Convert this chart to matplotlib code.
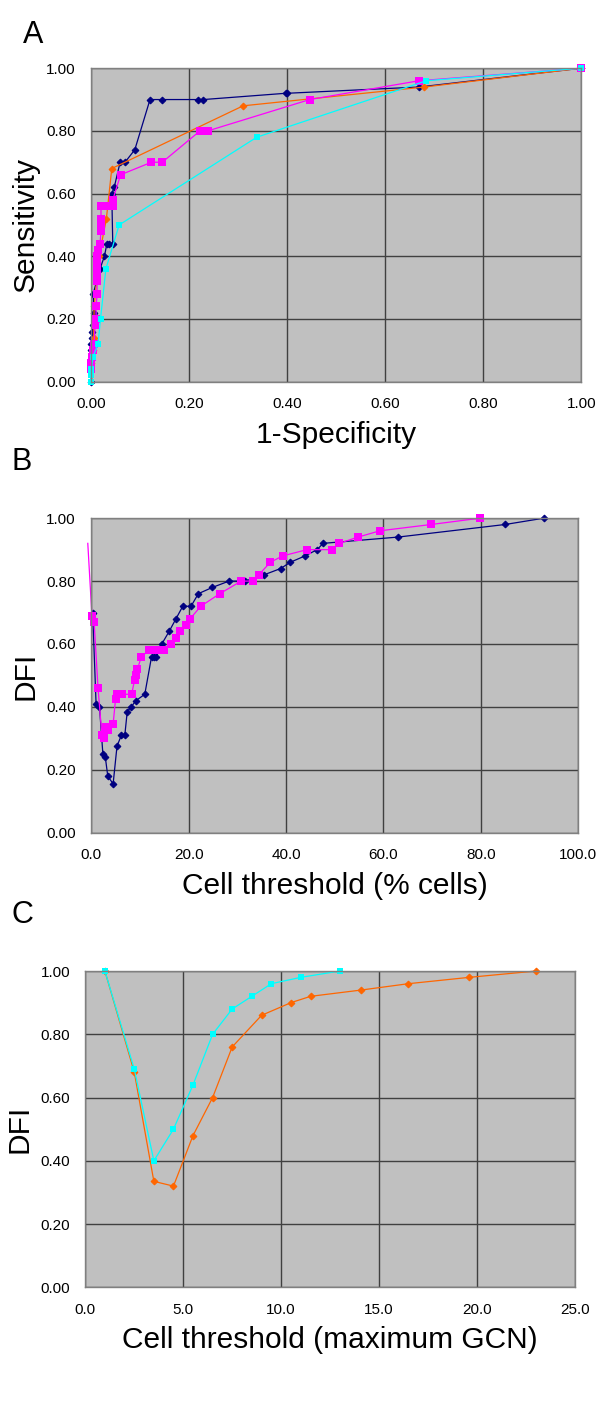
import matplotlib
matplotlib.use("Agg")
import matplotlib.pyplot as plt
from matplotlib.ticker import MultipleLocator, FormatStrFormatter

plt.rcParams["font.family"] = ["Liberation Sans", "DejaVu Sans"]

# Panel A: ROC curves
roc_navy_x = [0.0, 0.0, 0.0, 0.002, 0.002, 0.004, 0.006, 0.004, 0.018, 0.027, 0.032, 0.036, 0.044,
              0.042, 0.047, 0.059, 0.069, 0.089, 0.12, 0.145, 0.218, 0.229, 0.397, 0.40, 0.669, 1.0]
roc_navy_y = [0.0, 0.10, 0.12, 0.14, 0.16, 0.18, 0.22, 0.28, 0.36, 0.40, 0.44, 0.44, 0.44,
              0.60, 0.62, 0.70, 0.70, 0.74, 0.90, 0.90, 0.90, 0.90, 0.92, 0.92, 0.94, 1.0]
roc_orange_x = [0.0, 0.004, 0.005, 0.006, 0.016, 0.031, 0.042, 0.31, 0.68, 1.0]
roc_orange_y = [0.06, 0.10, 0.14, 0.24, 0.40, 0.52, 0.68, 0.88, 0.94, 1.0]
roc_magenta_x = [0.0, 0.0, 0.002, 0.004, 0.006, 0.008, 0.01, 0.01, 0.012, 0.012, 0.012, 0.012, 0.012,
                 0.012, 0.014, 0.018, 0.02, 0.02, 0.02, 0.02, 0.026, 0.032, 0.038, 0.044, 0.044, 0.06,
                 0.123, 0.145, 0.222, 0.238, 0.446, 0.669, 1.0]
roc_magenta_y = [0.04, 0.06, 0.08, 0.10, 0.12, 0.18, 0.20, 0.24, 0.28, 0.32, 0.34, 0.36, 0.38,
                 0.40, 0.42, 0.44, 0.48, 0.50, 0.52, 0.56, 0.56, 0.56, 0.56, 0.56, 0.58, 0.66,
                 0.70, 0.70, 0.80, 0.80, 0.90, 0.96, 1.0]
roc_cyan_x = [0.0, 0.0, 0.0, 0.004, 0.014, 0.019, 0.03, 0.057, 0.338, 0.684, 1.0]
roc_cyan_y = [0.0, 0.02, 0.04, 0.08, 0.12, 0.20, 0.36, 0.50, 0.78, 0.96, 1.0]

# Panel B: DFI vs % cells threshold
pct_navy_x = [0.3, 1.0, 1.7, 2.4, 2.9, 3.4, 4.5, 5.3, 6.2, 6.9, 7.4, 8.2, 9.2, 11.0, 12.4, 12.9, 13.4,
              14.5, 16.0, 17.4, 18.8, 20.5, 22.0, 24.9, 28.3, 31.6, 35.5, 38.9, 40.9, 43.9, 46.4,
              47.6, 63.0, 85.0, 92.9]
pct_navy_y = [0.70, 0.41, 0.40, 0.25, 0.24, 0.18, 0.155, 0.275, 0.31, 0.31, 0.385, 0.40, 0.42, 0.44,
              0.56, 0.56, 0.56, 0.60, 0.64, 0.68, 0.72, 0.72, 0.76, 0.78, 0.80, 0.80, 0.82, 0.84,
              0.86, 0.88, 0.90, 0.92, 0.94, 0.98, 1.00]
pct_magenta_x = [-0.7, 0.15, 0.6, 1.4, 2.2, 2.7, 3.0, 3.4, 4.5, 5.0, 5.3, 6.4, 8.3, 8.9, 9.1, 9.5,
                 10.3, 11.9, 13.3, 14.9, 16.3, 17.4, 18.3, 19.4, 20.3, 22.5, 26.4, 30.8, 33.3, 34.4,
                 36.8, 39.3, 44.3, 49.4, 50.9, 54.8, 59.3, 69.8, 79.8]
pct_magenta_y = [0.92, 0.69, 0.67, 0.46, 0.31, 0.30, 0.335, 0.325, 0.345, 0.425, 0.44, 0.44, 0.44,
                 0.485, 0.50, 0.52, 0.56, 0.58, 0.58, 0.58, 0.60, 0.62, 0.64, 0.66, 0.68, 0.72,
                 0.76, 0.80, 0.80, 0.82, 0.86, 0.88, 0.90, 0.90, 0.92, 0.94, 0.96, 0.98, 1.00]

# Panel C: DFI vs maximum GCN threshold
gcn_orange_x = [1.0, 2.5, 3.5, 4.5, 5.5, 6.5, 7.5, 9.0, 10.5, 11.5, 14.1, 16.5, 19.6, 23.0]
gcn_orange_y = [1.00, 0.68, 0.335, 0.32, 0.48, 0.60, 0.76, 0.86, 0.90, 0.92, 0.94, 0.96, 0.98, 1.00]
gcn_cyan_x = [1.0, 2.5, 3.5, 4.5, 5.5, 6.5, 7.5, 8.5, 9.5, 11.0, 13.0]
gcn_cyan_y = [1.00, 0.69, 0.40, 0.50, 0.64, 0.80, 0.88, 0.92, 0.96, 0.98, 1.00]

NAVY = "#000080"
ORANGE = "#FF6600"
MAGENTA = "#FF00FF"
CYAN = "#00FFFF"

LABEL_FS = 21.5
TICK_FS = 11

DIAMOND = dict(marker="D", ms=3.4, mew=0.8, clip_on=False)
SQUARE_BIG = dict(marker="s", ms=5.5, mew=0, clip_on=False)
SQUARE = dict(marker="s", ms=4.8, mew=0, clip_on=False)


def style_axes(ax, xmax, xstep, xfmt, xlabel, ylabel):
    ax.set_facecolor("#C0C0C0")
    ax.set_xlim(0, xmax)
    ax.set_ylim(0, 1.0)
    ax.xaxis.set_major_locator(MultipleLocator(xstep))
    ax.yaxis.set_major_locator(MultipleLocator(0.2))
    ax.xaxis.set_major_formatter(FormatStrFormatter(xfmt))
    ax.yaxis.set_major_formatter(FormatStrFormatter("%.2f"))
    ax.grid(True, color="#404040", linewidth=1.0)
    ax.set_axisbelow(True)
    ax.tick_params(length=0, labelsize=TICK_FS, pad=11)
    for sp in ax.spines.values():
        sp.set_color("#808080")
        sp.set_linewidth(1.0)
    ax.set_xlabel(xlabel, fontsize=LABEL_FS, labelpad=7)
    ax.set_ylabel(ylabel, fontsize=LABEL_FS, labelpad=5)


fig = plt.figure(figsize=(6.0, 14.12), dpi=100)

axA = fig.add_axes([0.152, 0.7297, 0.8167, 0.2220])
axA.plot(roc_navy_x, roc_navy_y, color=NAVY, lw=0.9, **DIAMOND)
axA.plot(roc_orange_x, roc_orange_y, color=ORANGE, lw=0.9, **DIAMOND)
axA.plot(roc_magenta_x, roc_magenta_y, color=MAGENTA, lw=0.9, **SQUARE_BIG)
axA.plot(roc_cyan_x, roc_cyan_y, color=CYAN, lw=0.9, **SQUARE)
style_axes(axA, 1.0, 0.2, "%.2f", "1-Specificity", "Sensitivity")

axB = fig.add_axes([0.152, 0.4103, 0.8117, 0.2227])
axB.plot(pct_navy_x, pct_navy_y, color=NAVY, lw=0.9, **DIAMOND)
axB.plot(pct_magenta_x, pct_magenta_y, color=MAGENTA, lw=0.9, markevery=slice(1, None), **SQUARE_BIG)
style_axes(axB, 100.0, 20.0, "%.1f", "Cell threshold (% cells)", "DFI")

axC = fig.add_axes([0.1422, 0.0883, 0.8160, 0.2240])
axC.plot(gcn_orange_x, gcn_orange_y, color=ORANGE, lw=0.9, **DIAMOND)
axC.plot(gcn_cyan_x, gcn_cyan_y, color=CYAN, lw=0.9, **SQUARE)
style_axes(axC, 25.0, 5.0, "%.1f", "Cell threshold (maximum GCN)", "DFI")

fig.text(33 / 600, 1 - 35 / 1412, "A", fontsize=22, ha="center", va="center")
fig.text(22 / 600, 1 - 462 / 1412, "B", fontsize=22, ha="center", va="center")
fig.text(22 / 600, 1 - 915 / 1412, "C", fontsize=22, ha="center", va="center")

fig.savefig("out.png", dpi=100)
